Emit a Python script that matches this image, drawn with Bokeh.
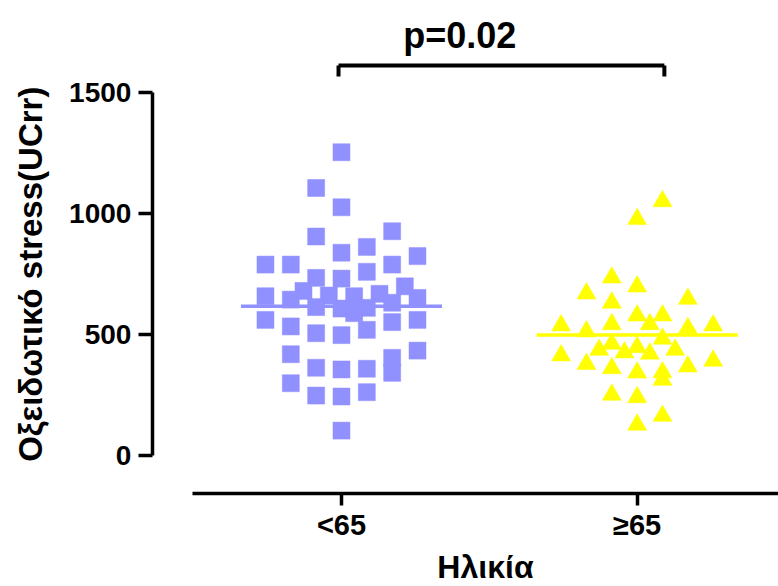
import math
from bokeh.plotting import figure
from bokeh.models import Range1d, FixedTicker, ColumnDataSource, Label
from bokeh.embed import file_html
from bokeh.resources import INLINE
from bokeh.core.properties import value

# ---- data ----
groups = ["<65", "≥65"]
group_pos = [1, 2]

# (column slot within the dot column, value)
young_slot = [0, -1, 0, -1, 2, 0, 1, 3, -3, -2, 2, 1, -1, 0, -1.5, 2.5, -3, -2, -0.5, 0.5,
              1.5, 3, 2, -1, 0, 0.5, 1, -3, -2, -1, 0, 1, 2, 3, -2, 3, 2, 2, -1, 0,
              1, -2, -1, 0, 1, 0]
young_val = [1255, 1107, 1027, 906, 928, 839, 863, 825, 790, 790, 790, 760, 735, 732, 681, 700,
             659, 645, 662, 659, 669, 652, 632, 614, 608, 589, 611, 561, 534, 506, 498, 520,
             552, 561, 419, 434, 404, 342, 363, 356, 359, 299, 248, 244, 262, 103]

old_slot = [1, 0, -1, 0, -2, 2, -1, 0, 1, 0.5, -3, -1, 2, 3, -2, 1, -1, -1.5, 0, -0.5,
            0.5, 1.5, -3, 3, -2, -1, 2, 0, 1, 1, -1, 0, 1, 0]
old_val = [1052, 978, 736, 699, 670, 648, 632, 579, 579, 543, 538, 543, 527, 538, 513, 483,
           462, 437, 448, 426, 421, 437, 414, 392, 379, 361, 368, 343, 344, 313, 251, 241,
           164, 127]

group_means = [618, 499]
y_ticks = [0, 500, 1000, 1500]

x_title = "Ηλικία"
y_title = "Οξειδωτικό stress(UCrr)"
p_label = "p=0.02"
bracket_x = [0.99, 2.092]
bracket_y = 1614
bracket_drop = 46

slot_width = 0.0857
mean_half = 0.34

FONT = "Liberation Sans"
X0, X1 = -0.1532, 2.478          # whole canvas width
Y0, Y1 = -542.1, 1882.7          # whole canvas height
x_axis_start = 0.4958            # where the x axis line begins
y_axis_at = 0.3604               # x position of the y axis
x_axis_at = -157.2               # y position of the x axis

p = figure(width=778, height=586, output_backend="svg", toolbar_location=None,
           x_range=Range1d(X0, X1), y_range=Range1d(Y0, Y1),
           min_border_left=0, min_border_right=0, min_border_top=0, min_border_bottom=0)
p.outline_line_color = None
p.xgrid.visible = False
p.ygrid.visible = False
p.background_fill_color = "white"
p.border_fill_color = "white"

# points
src_y = ColumnDataSource(dict(x=[group_pos[0] + s * slot_width for s in young_slot], y=young_val))
src_o = ColumnDataSource(dict(x=[group_pos[1] + s * slot_width for s in old_slot], y=old_val))
p.scatter("x", "y", source=src_y, marker="square", size=17, fill_color="#9090ff",
          line_color="#9090ff", line_width=0.5)
p.scatter("x", "y", source=src_o, marker="triangle", size=19, fill_color="#ffff00",
          line_color="#ffff00", line_width=0.5)

# mean lines
p.segment(x0=[g - mean_half for g in group_pos], x1=[g + mean_half for g in group_pos],
          y0=group_means, y1=group_means, line_color=["#9090ff", "#ffff00"], line_width=3.5)

# significance bracket
p.segment(x0=[bracket_x[0], bracket_x[0], bracket_x[1]],
          x1=[bracket_x[1], bracket_x[0], bracket_x[1]],
          y0=[bracket_y, bracket_y, bracket_y],
          y1=[bracket_y, bracket_y - bracket_drop, bracket_y - bracket_drop],
          line_color="black", line_width=4)
p.text(x=[(group_pos[0] + group_pos[1]) / 2 - 0.1], y=[bracket_y + 124], text=[p_label],
       text_font=value(FONT), text_font_style="bold", text_font_size="36px",
       text_align="center", text_baseline="alphabetic", text_color="black")

# axes at fixed data locations
xa = p.xaxis[0]
xa.fixed_location = x_axis_at
xa.ticker = FixedTicker(ticks=group_pos)
xa.major_label_overrides = {g: lab for g, lab in zip(group_pos, groups)}
xa.bounds = (x_axis_start, X1)
xa.axis_line_width = 3.5
xa.axis_line_color = "black"
xa.major_tick_line_width = 3.5
xa.major_tick_line_color = "black"
xa.major_tick_in = 0
xa.major_tick_out = 12
xa.minor_tick_line_color = None
xa.major_label_text_font = FONT
xa.major_label_text_font_style = "bold"
xa.major_label_text_font_size = "29px"
xa.major_label_text_color = "black"
xa.major_label_standoff = 4

ya = p.yaxis[0]
ya.fixed_location = y_axis_at
ya.ticker = FixedTicker(ticks=y_ticks)
ya.bounds = (y_ticks[0], y_ticks[-1])
ya.axis_line_width = 3.5
ya.axis_line_color = "black"
ya.major_tick_line_width = 3.5
ya.major_tick_line_color = "black"
ya.major_tick_in = 0
ya.major_tick_out = 14
ya.minor_tick_line_color = None
ya.major_label_text_font = FONT
ya.major_label_text_font_style = "bold"
ya.major_label_text_font_size = "28px"
ya.major_label_text_color = "black"
ya.major_label_standoff = 7

# axis titles, centred on the drawn axis lines
p.add_layout(Label(x=(x_axis_start + X1) / 2, y=-462, text=x_title,
                   text_font=FONT, text_font_style="bold", text_font_size="32px",
                   text_color="black", text_align="center", text_baseline="alphabetic"))
p.add_layout(Label(x=-0.052, y=(y_ticks[0] + y_ticks[-1]) / 2, text=y_title, angle=math.pi / 2,
                   text_font=FONT, text_font_style="bold", text_font_size="33px",
                   text_color="black", text_align="center", text_baseline="alphabetic"))

open("out.html", "w").write(file_html(p, INLINE))
